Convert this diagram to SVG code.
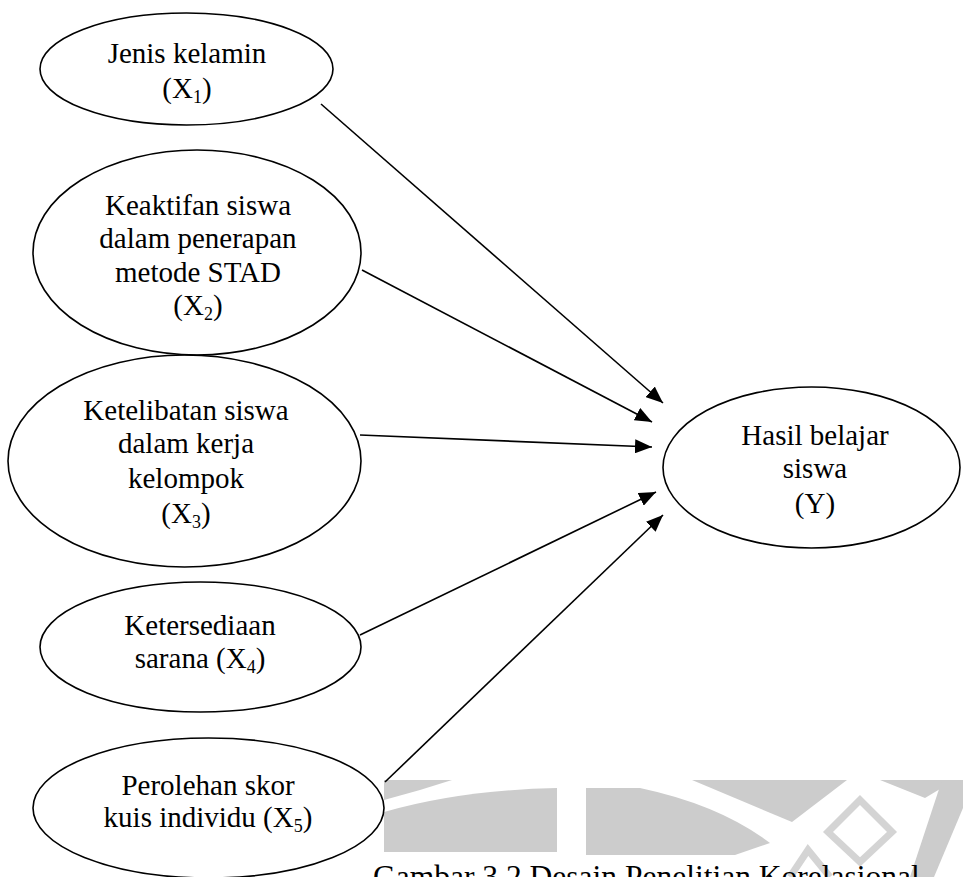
<svg xmlns="http://www.w3.org/2000/svg" width="963" height="877" viewBox="0 0 963 877">
  <style>
    .node ellipse { fill: none; stroke: #000; stroke-width: 1.6; }
    text { font-family: "Liberation Serif", "Times New Roman", serif; font-size: 29px; fill: #000; text-anchor: middle; }
    .sub { font-size: 18px; }
    .conn line { stroke: #000; stroke-width: 1.6; marker-end: url(#arrow); }
    .wm { fill: #cccccc; }
    .wml { fill: none; stroke: #d4d4d4; stroke-width: 7; }
    .caption { text-anchor: start; font-size: 31.5px; }
  </style>
  <defs>
    <marker id="arrow" markerUnits="userSpaceOnUse" markerWidth="17" markerHeight="14" refX="17" refY="7" orient="auto">
      <path d="M0,0 L17,7 L0,14 Z" fill="#000"/>
    </marker>
  </defs>
  <rect width="963" height="877" fill="#fff"/>

  <g id="watermark">
    <path class="wm" d="M384,780 L452,780 L420,790 L384,800 Z"/>
    <path class="wm" d="M384,852 L384,812 Q460,790 557,788 L557,852 Z"/>
    <path class="wm" d="M586,788 L640,788 Q720,805 770,843 L735,855 L586,855 Z"/>
    <path class="wm" d="M692,780 L847,780 L792,822 Z"/>
    <path class="wm" d="M880,780 L955,780 L925,798 Z"/>
    <path class="wm" d="M942,780 L963,780 L963,808 L934,877 L910,877 Z"/>
    <path class="wml" d="M860,800 L892,832 L860,862 L828,832 Z"/>
    <path class="wml" d="M790,877 L808,850 L830,877"/>
  </g>

  <g id="connectors" class="conn">
    <line x1="321" y1="104" x2="663" y2="403"/>
    <line x1="362" y1="270" x2="652" y2="422"/>
    <line x1="360" y1="435" x2="652" y2="447"/>
    <line x1="360" y1="635" x2="656" y2="492"/>
    <line x1="385" y1="782" x2="663" y2="515"/>
  </g>

  <g id="X1" class="node">
    <ellipse cx="186.5" cy="69" rx="146.5" ry="56"/>
    <text x="187" y="63">Jenis kelamin</text>
    <text x="187" y="98">(X<tspan class="sub" dy="5">1</tspan><tspan dy="-5">)</tspan></text>
  </g>

  <g id="X2" class="node">
    <ellipse cx="197" cy="252.5" rx="164" ry="102.5"/>
    <text x="198" y="215">Keaktifan siswa</text>
    <text x="198" y="248">dalam penerapan</text>
    <text x="198" y="282">metode STAD</text>
    <text x="198" y="315">(X<tspan class="sub" dy="5">2</tspan><tspan dy="-5">)</tspan></text>
  </g>

  <g id="X3" class="node">
    <ellipse cx="184.5" cy="461" rx="176.5" ry="106"/>
    <text x="186" y="420">Ketelibatan siswa</text>
    <text x="186" y="453">dalam kerja</text>
    <text x="186" y="488">kelompok</text>
    <text x="186" y="523">(X<tspan class="sub" dy="5">3</tspan><tspan dy="-5">)</tspan></text>
  </g>

  <g id="X4" class="node">
    <ellipse cx="200.5" cy="647" rx="160.5" ry="65"/>
    <text x="200" y="635">Ketersediaan</text>
    <text x="200" y="668">sarana (X<tspan class="sub" dy="5">4</tspan><tspan dy="-5">)</tspan></text>
  </g>

  <g id="X5" class="node">
    <ellipse cx="208.5" cy="808" rx="175.5" ry="70"/>
    <text x="208" y="795">Perolehan skor</text>
    <text x="208" y="827">kuis individu (X<tspan class="sub" dy="5">5</tspan><tspan dy="-5">)</tspan></text>
  </g>

  <g id="Y" class="node">
    <ellipse cx="811.5" cy="467.5" rx="148.5" ry="80.5"/>
    <text x="815" y="445">Hasil belajar</text>
    <text x="815" y="478">siswa</text>
    <text x="815" y="513">(Y)</text>
  </g>

  <text class="caption" x="373" y="887">Gambar 3.2 Desain Penelitian Korelasional</text>
</svg>
